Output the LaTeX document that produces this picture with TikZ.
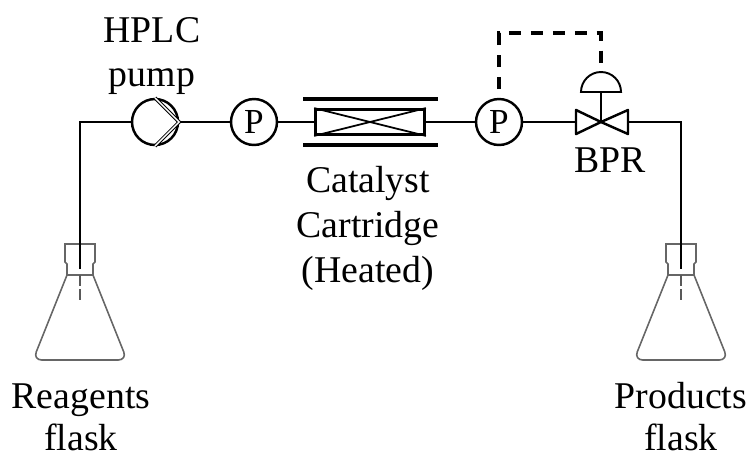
\documentclass[tikz,border=0pt]{standalone}
\usepackage{fontspec}
\setmainfont{Liberation Serif}
\usetikzlibrary{arrows.meta,positioning,calc}
\tikzset{
  pipe/.style={line width=1.6pt},
  gauge/.style={draw,circle,line width=1.4pt,fill=white,minimum size=.92cm,inner sep=0pt,font=\fontsize{20}{24}\selectfont},
  flaskline/.style={draw=black!60,line width=.9pt},
  word/.style={font=\fontsize{21.5}{25.6}\selectfont,inner sep=0pt},
  lbl/.style={word,align=center},
  flask/.pic={
    \draw[flaskline] (-15,0) -- (15,0) -- (15,18) -- (13,20) -- (13,31) -- (-13,31) -- (-13,20) -- (-15,18) -- cycle;
    \draw[flaskline,rounded corners=5pt] (-13,31) -- (-47,116) -- (47,116) -- (13,31);
    \coordinate (-neck) at (0,0);
    \coordinate (-tip) at (0,25);
    \draw[pipe,black!65,dash pattern=on 6pt off 2pt] (0,31) -- (0,56);
  }
}
\begin{document}
\begin{tikzpicture}[x=.02cm,y=-.02cm]
\useasboundingbox (0,0) rectangle (749,454);
\node[gauge] (pump) at (155,122) {};
\node[gauge] (pa) at (254,122) {P};
\node[draw,line width=1.6pt,minimum width=2.18cm,minimum height=.5cm,inner sep=0pt] (cart) at (370,122) {};
\node[gauge] (pb) at (499,122) {P};
\coordinate (bpr) at (601,122);
\coordinate (bprl) at (576,122);
\coordinate (bprr) at (628,122);
\coordinate (dome) at (601,92);
\coordinate (lcorner) at (80,122);
\coordinate (rcorner) at (681,122);
\coordinate (upa) at (499,33);
\coordinate (upb) at (601,33);
\coordinate (domet) at (601,71);
\pic (lflask) at (80,244) {flask};
\pic (rflask) at (681,244) {flask};
% pipework
\draw[pipe] (lflask-tip) -- (lcorner) -- (pump);
\draw[pipe] (pump) -- (pa);
\draw[pipe] (pa) -- (cart);
\draw[pipe] (cart) -- (pb);
\draw[pipe] (pb) -- (bprl);
\draw[pipe] (bprr) -- (rcorner) -- (rflask-tip);
% pump head
\draw[line width=.6pt,double=white,double distance=.8pt] (pump.north) -- (pump.east) -- (pump.south);
% heater bars
\draw[line width=1.8pt] (303,99) -- (438,99);
\draw[line width=1.8pt] (303,145) -- (438,145);
\draw[line width=1pt] (cart.north west) -- (cart.south east);
\draw[line width=1pt] (cart.south west) -- (cart.north east);
% valve
\draw[line width=1.4pt,fill=white,line join=round] (bpr) -- (576,110) -- (576,134) -- cycle;
\draw[line width=1.4pt,fill=white,line join=round] (bpr) -- (628,110) -- (628,134) -- cycle;
\draw[line width=1.4pt] (bpr) -- (dome);
\draw[line width=1.1pt,fill=white] (581,92) arc[start angle=180,end angle=0,x radius=20,y radius=-20] -- cycle;
\draw[pipe,line width=1.8pt,dash pattern=on 7pt off 5.5pt] (pb) ++(0,-33) -- (upa) -- (upb) -- (domet);
% labels
\node[lbl] (pumplbl) at (152,56) {HPLC\\pump};
\node[lbl] (cartlbl) at (368,228) {Catalyst\\Cartridge\\(Heated)};
\node[word] (bprlbl) at (610,160) {BPR};
\node[word,anchor=base] (lflasklbl) at (81,408) {Reagents};
\node[word,anchor=base] (lflasklow) at (81,450) {flask};
\node[word,anchor=base] (rflasklbl) at (681,408) {Products};
\node[word,anchor=base] (rflasklow) at (681,450) {flask};
\end{tikzpicture}
\end{document}
